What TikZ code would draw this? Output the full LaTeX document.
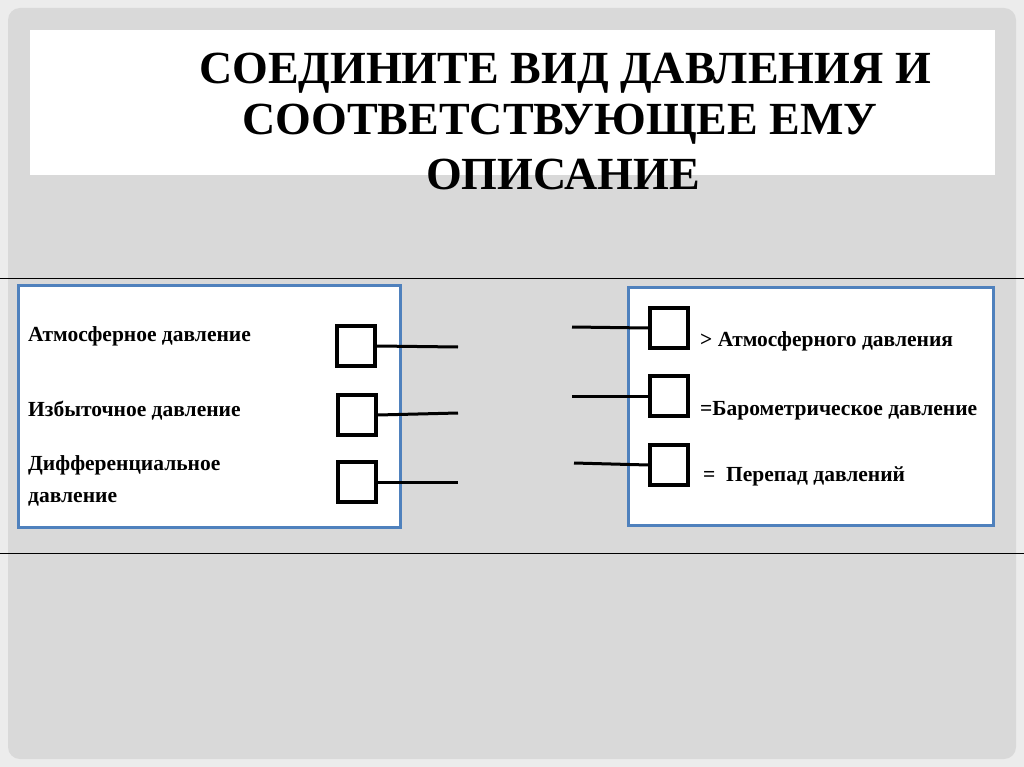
\documentclass[tikz,border=0pt]{standalone}
\usepackage{fontspec}
\setmainfont{Liberation Serif}
\begin{document}
\begin{tikzpicture}[x=1pt,y=-1pt,
  panel/.style={draw={rgb,255:red,79;green,129;blue,189},line width=3pt,fill=white},
  sq/.style={draw=black,line width=3.5pt,minimum width=38pt,minimum height=40pt,inner sep=0pt},
  link/.style={draw=black,line width=3pt},
  lbl/.style={font=\bfseries\fontsize{21.5}{24}\selectfont,anchor=west,inner sep=0pt,align=left},
  ttl/.style={font=\bfseries\fontsize{46}{50}\selectfont,inner sep=0pt}]
\useasboundingbox (0,0) rectangle (1024,767);
\fill[gray!15] (0,0) rectangle (1024,767);
\fill[gray!30,rounded corners=12pt] (8,8) rectangle (1016,759);
\fill[white] (30,30) rectangle (995,175);
\node[ttl] (t1) at (565,73) {СОЕДИНИТЕ ВИД ДАВЛЕНИЯ И};
\node[ttl] (t2) at (560,124) {СООТВЕТСТВУЮЩЕЕ ЕМУ};
\node[ttl] (t3) at (563,174) {ОПИСАНИЕ};
\draw[line width=1pt] (0,278) -- (1024,278);
\draw[line width=1pt] (0,553) -- (1024,553);
\draw[panel] (18,285) rectangle (400,527);
\draw[panel] (628,287) rectangle (993,525);
\node[lbl] (a1) at (28,336) {Атмосферное давление};
\node[lbl] (a2) at (28,411) {Избыточное давление};
\node[lbl,font=\bfseries\fontsize{21.5}{32}\selectfont] (a3) at (28,481) {Дифференциальное\\давление};
\node[sq] (s1) at (356,346) {};
\node[sq] (s2) at (357,415) {};
\node[sq] (s3) at (357,482) {};
\coordinate (e1) at (458,347);
\coordinate (e2) at (458,413);
\coordinate (e3) at (458,482);
\draw[link] (s1.east) -- (e1);
\draw[link] (s2.east) -- (e2);
\draw[link] (s3.east) -- (e3);
\node[sq] (r1) at (669,328) {};
\node[sq] (r2) at (669,396) {};
\node[sq] (r3) at (669,465) {};
\coordinate (f1) at (572,327);
\coordinate (f2) at (572,396);
\coordinate (f3) at (574,463);
\draw[link] (f1) -- (r1.west);
\draw[link] (f2) -- (r2.west);
\draw[link] (f3) -- (r3.west);
\node[lbl] (b1) at (700,341) {> Атмосферного давления};
\node[lbl] (b2) at (700,411) {=Барометрическое давление};
\node[lbl] (b3) at (703,476) {=\ \ Перепад давлений};
\end{tikzpicture}
\end{document}
